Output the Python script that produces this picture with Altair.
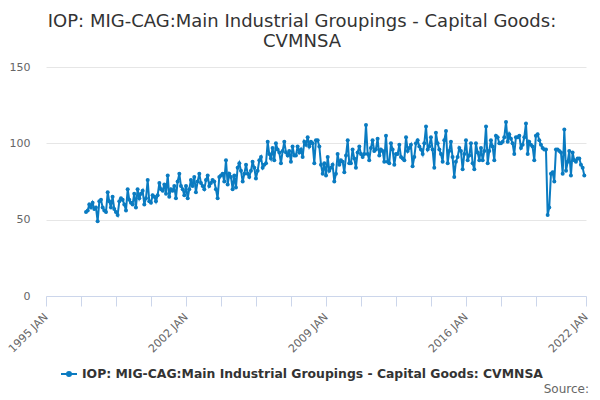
import json

import altair as alt
import pandas as pd

TITLE = ["IOP: MIG-CAG:Main Industrial Groupings - Capital Goods:", "CVMNSA"]
SERIES = "IOP: MIG-CAG:Main Industrial Groupings - Capital Goods: CVMNSA"
LINE_COLOR = "#0a7bc1"
FIRST_YEAR = 1997

# monthly index, Jan 1997 onwards
values = [
    55, 56, 60, 58, 61, 57, 58, 49, 62, 63, 58, 56,  # 1997
    55, 68, 62, 58, 65, 57, 55, 53, 62, 64, 63, 60,  # 1998
    56, 70, 63, 61, 60, 67, 58, 70, 64, 67, 69, 60,  # 1999
    64, 76, 62, 61, 66, 65, 62, 66, 74, 70, 69, 73,  # 2000
    67, 79, 65, 70, 69, 72, 64, 75, 80, 72, 70, 66,  # 2001
    72, 64, 70, 76, 72, 78, 68, 75, 80, 74, 72, 70,  # 2002
    76, 79, 72, 74, 76, 75, 70, 64, 78, 79, 80, 75,  # 2003
    89, 73, 80, 78, 70, 79, 71, 84, 87, 82, 75, 80,  # 2004
    86, 80, 78, 82, 88, 84, 77, 82, 89, 91, 84, 86,  # 2005
    87, 101, 93, 90, 97, 89, 100, 96, 94, 87, 95, 101,  # 2006
    94, 92, 95, 88, 98, 92, 92, 98, 94, 96, 91, 101,  # 2007
    99, 104, 98, 101, 100, 87, 102, 102, 98, 86, 80, 87,  # 2008
    79, 91, 82, 84, 86, 75, 80, 93, 86, 89, 88, 81,  # 2009
    92, 102, 87, 87, 96, 90, 84, 94, 98, 93, 91, 93,  # 2010
    112, 93, 89, 97, 102, 95, 96, 103, 92, 96, 95, 88,  # 2011
    105, 88, 87, 100, 96, 86, 93, 93, 99, 91, 90, 89,  # 2012
    104, 95, 97, 99, 85, 91, 100, 102, 98, 96, 93, 100,  # 2013
    111, 96, 98, 104, 96, 84, 107, 100, 96, 93, 88, 102,  # 2014
    108, 87, 95, 101, 91, 78, 88, 91, 97, 95, 83, 93,  # 2015
    102, 89, 92, 100, 87, 83, 100, 94, 89, 97, 89, 95,  # 2016
    111, 87, 95, 102, 98, 89, 105, 104, 100, 100, 101, 104,  # 2017
    114, 101, 106, 103, 100, 93, 104, 104, 105, 97, 99, 104,  # 2018
    113, 93, 101, 99, 98, 89, 105, 106, 102, 99, 97, 96,  # 2019
    96, 53, 58, 80, 81, 75, 96, 96, 95, 94, 80, 109,  # 2020
    82, 88, 95, 79, 94, 89, 88, 90, 90, 86, 84, 79,  # 2021
]

y_ticks = [0, 50, 100, 150]
x_labels = ["1995 JAN", "2002 JAN", "2009 JAN", "2016 JAN", "2022 JAN"]

# axis ticks every 21 months from Jan 1995, plus the end of the axis
x_ticks = [
    alt.DateTime(year=1995 + m // 12, month=m % 12 + 1, date=1) for m in range(0, 295, 21)
] + [alt.DateTime(year=2022, month=1, date=1)]

tick_text = "timeFormat(datum.value, '%Y') + ' ' + upper(timeFormat(datum.value, '%b'))"
label_expr = (
    "indexof(" + json.dumps(x_labels).replace('"', "'") + ", " + tick_text + ") >= 0"
    " ? " + tick_text + " : ''"
)

frame = pd.DataFrame({"idx": range(len(values)), "value": values, "series": SERIES})

line = (
    alt.Chart(frame)
    .transform_calculate(
        date=f"datetime({FIRST_YEAR} + floor(datum.idx / 12), datum.idx % 12, 1)"
    )
    .mark_line(
        strokeWidth=2,
        point=alt.OverlayMarkDef(filled=True, size=16),
    )
    .encode(
        x=alt.X(
            "date:T",
            title=None,
            scale=alt.Scale(
                domain=[
                    alt.DateTime(year=1995, month=1, date=1),
                    alt.DateTime(year=2022, month=1, date=1),
                ]
            ),
            axis=alt.Axis(
                values=x_ticks,
                labelExpr=label_expr,
                labelAngle=-45,
                labelAlign="right",
                labelBaseline="middle",
                labelPadding=9,
                labelOverlap=False,
                labelFlush=False,
                labelBound=False,
                labelFontSize=11,
                labelColor="#666666",
                tickSize=10,
                tickColor="#ccd6eb",
                domainColor="#ccd6eb",
                grid=False,
            ),
        ),
        y=alt.Y(
            "value:Q",
            title=None,
            scale=alt.Scale(domain=[0, 150], nice=False),
            axis=alt.Axis(
                values=y_ticks,
                domain=False,
                ticks=False,
                labelPadding=16,
                labelFontSize=11,
                labelColor="#666666",
                gridColor="#e6e6e6",
            ),
        ),
        color=alt.Color(
            "series:N",
            scale=alt.Scale(range=[LINE_COLOR]),
            legend=alt.Legend(
                title=None,
                orient="none",
                legendX=14,
                legendY=298,
                padding=0,
                labelFontSize=12.4,
                labelFontWeight="bold",
                labelColor="#333333",
                labelLimit=0,
                symbolType="M-1,0L1,0M0.25,0A0.25,0.25,0,1,1,-0.25,0A0.25,0.25,0,1,1,0.25,0",
                symbolSize=256,
                symbolStrokeWidth=2,
                symbolFillColor=LINE_COLOR,
                symbolStrokeColor=LINE_COLOR,
            ),
        ),
    )
)

source = (
    alt.Chart(pd.DataFrame({"note": ["Source:"]}))
    .mark_text(align="right", baseline="alphabetic", fontSize=12, color="#666666")
    .encode(text="note:N", x=alt.value(543), y=alt.value(326))
)

chart = (
    alt.layer(line, source)
    .properties(
        width=540,
        height=229,
        autosize="none",
        padding={"left": 38, "top": 59, "right": 6, "bottom": 100},
        title=alt.TitleParams(
            text=TITLE,
            fontSize=18,
            fontWeight="normal",
            color="#333333",
            anchor="middle",
            dx=-14,
            offset=10,
            lineHeight=20,
        ),
    )
    .configure(font="DejaVu Sans")
    .configure_view(stroke=None)
)

chart.save("out.html", embed_options={"renderer": "svg", "actions": False})
